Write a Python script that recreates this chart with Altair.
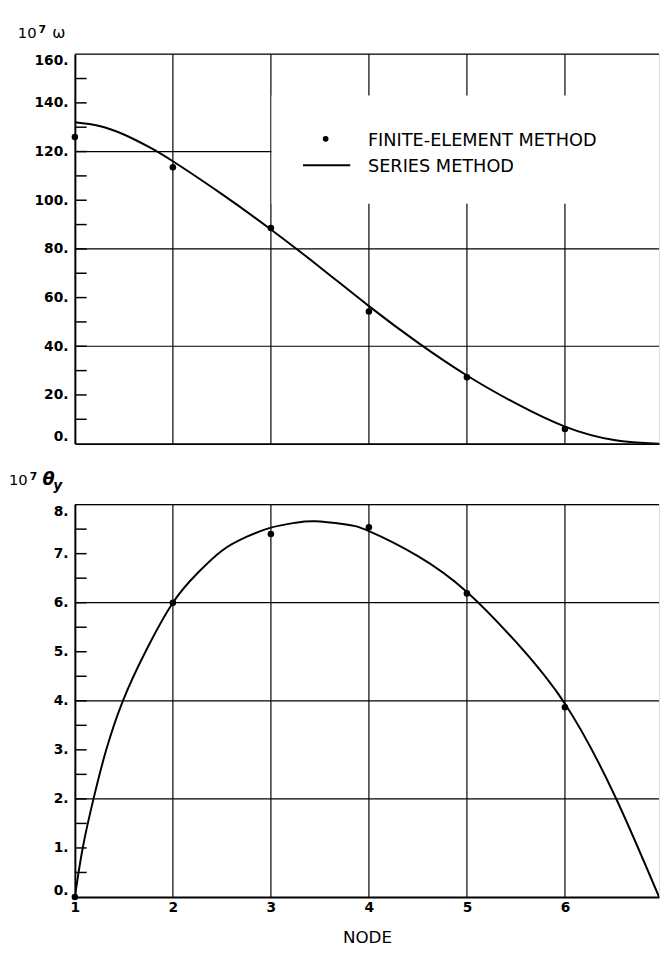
import altair as alt
import pandas as pd

# ---------------- data ----------------
nodes = [1, 2, 3, 4, 5, 6]

# top panel: 10^7 * omega
fe_w = [126.0, 113.5, 88.6, 54.3, 27.3, 6.0]
series_w_x = [1.0, 1.25, 1.5, 1.75, 2.0, 2.5, 3.0, 3.5, 4.0, 4.5, 5.0, 5.5, 6.0, 6.5, 6.96]
series_w = [132.0, 130.5, 127.0, 122.0, 116.0, 102.5, 88.0, 72.5, 56.5, 41.5, 28.0, 16.5, 7.0, 1.5, 0.0]

# bottom panel: 10^7 * theta_y
fe_t = [0.0, 6.0, 7.4, 7.54, 6.19, 3.87]
series_t_x = [1.0, 1.08, 1.19, 1.32, 1.49, 1.72, 2.0, 2.25, 2.5, 2.75, 3.0, 3.25,
              3.45, 3.75, 4.0, 4.5, 5.0, 5.5, 6.0, 6.5, 6.96]
series_t = [0.0, 1.0, 2.0, 3.0, 4.0, 5.0, 6.0, 6.6, 7.06, 7.34, 7.53, 7.63,
            7.66, 7.60, 7.46, 6.95, 6.22, 5.2, 3.94, 2.1, 0.0]

# axes, grid and tick values
x_labels = [1, 2, 3, 4, 5, 6]
x_grid = [2, 3, 4, 5, 6]
w_labels = [0, 20, 40, 60, 80, 100, 120, 140, 160]
w_minor = [10, 20, 30, 40, 50, 60, 70, 80, 90, 100, 110, 120, 130, 140, 150]
w_grid = [40, 80, 120, 160]
t_labels = [0, 1, 2, 3, 4, 5, 6, 7, 8]
t_minor = [0.5, 1, 1.5, 2, 2.5, 3, 3.5, 4, 4.5, 5, 5.5, 6, 6.5, 7, 7.5]
t_grid = [2, 4, 6, 8]

legend_labels = ["FINITE-ELEMENT METHOD", "SERIES METHOD"]
x_title = "NODE"
w_title = ["10", "7", "ω"]
t_title = ["10", "7", "θ", "y"]

FONT = "DejaVu Sans"
W = 594
H1 = 396
H2 = 399

xscale = alt.Scale(domain=[1, 6.96], nice=False, zero=False)


def txt(s, x, y, size, weight="normal", style="normal"):
    return alt.Chart(pd.DataFrame({"t": [s]})).mark_text(
        font=FONT, fontSize=size, fontWeight=weight, fontStyle=style,
        align="left", baseline="alphabetic", color="black"
    ).encode(x=alt.value(x), y=alt.value(y), text="t:N")


def panel(fe_vals, sx, sy, ydom, ylabels, yminor, ygrid, xaxis, height, extras, overlay):
    yscale = alt.Scale(domain=ydom, nice=False, zero=False)
    yaxis = alt.Axis(values=ylabels, labelExpr="format(datum.value, 'd') + '.'",
                     labelFlush=True, title=None, ticks=False, tickSize=0,
                     labelPadding=7, grid=False, domain=True, domainColor="black",
                     domainWidth=2, labelFont=FONT, labelFontSize=14,
                     labelFontWeight="bold", labelColor="black")
    vgrid = alt.Chart(pd.DataFrame({"node": x_grid})).mark_rule(
        color="black", strokeWidth=1.2
    ).encode(x=alt.X("node:Q", scale=xscale, axis=xaxis))
    hgrid = alt.Chart(pd.DataFrame({"val": ygrid})).mark_rule(
        color="black", strokeWidth=1.2
    ).encode(y=alt.Y("val:Q", scale=yscale, axis=yaxis))
    minor = alt.Chart(pd.DataFrame({"val": yminor})).mark_rule(
        color="black", strokeWidth=1.5
    ).encode(y=alt.Y("val:Q", scale=yscale), x=alt.value(0), x2=alt.value(12))
    line = alt.Chart(pd.DataFrame({"node": sx, "val": sy})).mark_line(
        color="black", strokeWidth=2, interpolate="natural", clip=True
    ).encode(x=alt.X("node:Q", scale=xscale), y=alt.Y("val:Q", scale=yscale),
             order="node:Q")
    pts = alt.Chart(pd.DataFrame({"node": nodes, "val": fe_vals})).mark_circle(
        color="black", size=44, opacity=1
    ).encode(x=alt.X("node:Q", scale=xscale), y=alt.Y("val:Q", scale=yscale))
    layers = [vgrid, hgrid] + extras + [minor, line, pts] + overlay
    return alt.layer(*layers).properties(width=W, height=height)


top_xaxis = alt.Axis(labels=False, ticks=False, title=None, grid=False,
                     domain=True, domainColor="black", domainWidth=2,
                     values=x_labels)
bot_xaxis = alt.Axis(values=x_labels, labels=True, ticks=False, tickSize=0, grid=False,
                     format="d", labelPadding=4, labelFlush=False, labelFont=FONT,
                     labelFontSize=14, labelFontWeight="bold", labelColor="black",
                     domain=True, domainColor="black", domainWidth=2,
                     title=x_title, titleFont=FONT, titleFontSize=17,
                     titleFontWeight="normal", titleColor="black", titlePadding=15)

# legend (decoration in pixel space of the top panel), on a white box that
# interrupts the grid lines as in the original
legend_box = alt.Chart(pd.DataFrame({"k": ["box"]})).mark_rect(
    color="white", opacity=1
).encode(x=alt.value(200), x2=alt.value(W), y=alt.value(42), y2=alt.value(152))
legend_dot = alt.Chart(pd.DataFrame({"k": [legend_labels[0]]})).mark_circle(
    color="black", size=34, opacity=1
).encode(x=alt.value(255), y=alt.value(86))
legend_line = alt.Chart(pd.DataFrame({"k": [legend_labels[1]]})).mark_rule(
    color="black", strokeWidth=2
).encode(x=alt.value(232), x2=alt.value(280), y=alt.value(113))

top_overlay = [
    txt(w_title[0], -58, -16.7, 15),
    txt(w_title[1], -37, -22, 11, weight="bold"),
    txt(w_title[2], -23, -16, 16),
    legend_dot, legend_line,
    txt(legend_labels[0], 298, 93, 18),
    txt(legend_labels[1], 298, 120, 18),
]
bot_overlay = [
    txt(t_title[0], -67, -19.5, 15),
    txt(t_title[1], -46, -25.5, 11, weight="bold"),
    txt(t_title[2], -33, -19.5, 18, weight="bold", style="italic"),
    txt(t_title[3], -22, -14.5, 14, weight="bold", style="italic"),
]

top = panel(fe_w, series_w_x, series_w, [0, 160], w_labels, w_minor, w_grid,
            top_xaxis, H1, [legend_box], top_overlay)
bot = panel(fe_t, series_t_x, series_t, [0, 8], t_labels, t_minor, t_grid,
            bot_xaxis, H2, [], bot_overlay)

chart = alt.vconcat(top, bot, spacing=25).properties(
    padding={"left": 0, "top": 7, "right": 0, "bottom": 0}
).configure_view(stroke=None).configure(background="white")

chart.save("out.html", embed_options={"renderer": "svg", "actions": False})
